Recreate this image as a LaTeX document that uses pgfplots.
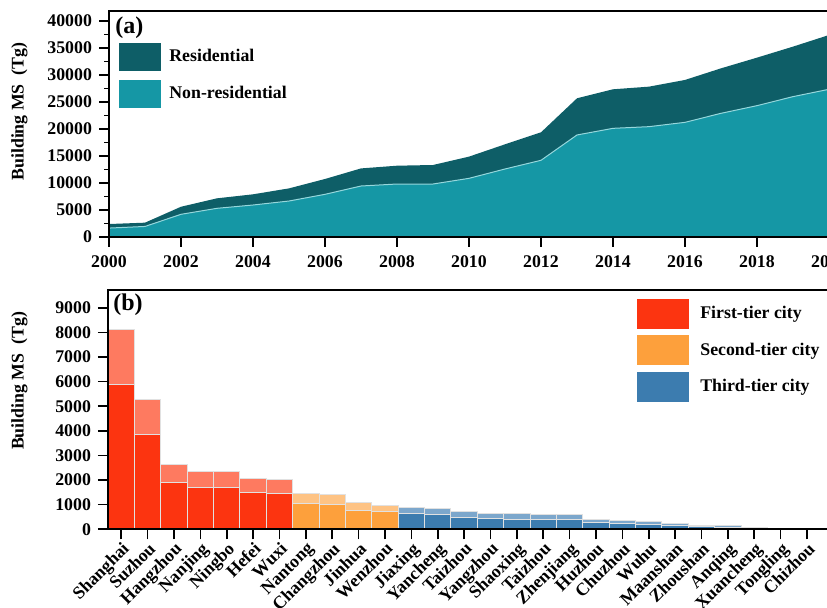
\documentclass[border=0pt]{standalone}
\usepackage{fontspec}
\setmainfont{Liberation Serif}
\usepackage{pgfplots}
\pgfplotsset{compat=1.18}
\definecolor{resid}{RGB}{14,94,103}
\definecolor{nonres}{RGB}{21,151,165}
\definecolor{nrline}{RGB}{150,215,220}
\definecolor{ftd}{RGB}{252,52,16}
\definecolor{ftl}{RGB}{254,122,96}
\definecolor{std}{RGB}{253,160,60}
\definecolor{stl}{RGB}{254,195,132}
\definecolor{ttd}{RGB}{60,124,175}
\definecolor{ttl}{RGB}{124,167,204}
\definecolor{edge}{RGB}{225,225,225}
\newcommand{\tf}{\fontsize{8.9}{10}\selectfont\bfseries}
\pgfplotsset{
  common/.style={
    scale only axis, axis on top, tick align=outside, tick pos=left,
    axis line style={black, line width=0.8pt},
    every tick/.style={black, line width=0.8pt},
    major tick length=5pt, minor tick length=2.5pt,
    tick label style={font=\tf},
    label style={font=\tf},
    /pgf/number format/assume math mode=true,
    /pgf/number format/1000 sep={},
    scaled ticks=false,
    legend style={font=\tf, draw=none, fill=none, inner sep=0pt,
      nodes={inner sep=0pt}, cells={anchor=west}},
  },
  topleg/.style={legend image code/.code={\path[##1, draw=none] (0pt,-7pt) rectangle (21.2pt,7pt);}},
  botleg/.style={legend image code/.code={\path[##1, draw=none] (0pt,-7.5pt) rectangle (25.8pt,7.5pt);}},
}
\begin{document}
\begin{tikzpicture}
\useasboundingbox (0,0) rectangle (413.5pt,304pt);
% ---------------- (a)
\begin{axis}[common,
  at={(54.5pt,185.5pt)}, anchor=south west,
  width=360pt, height=113pt,
  xmin=2000, xmax=2020, ymin=0, ymax=41850,
  xtick={2000,2002,2004,2006,2008,2010,2012,2014,2016,2018,2020},
  xticklabel style={yshift=-1pt},
  ytick={0,5000,10000,15000,20000,25000,30000,35000,40000},
  minor y tick num=1,
  ylabel={Building MS\ \ (Tg)},
  ylabel style={at={(rel axis cs:-0.1243,0.555)}, anchor=center},
  legend style={at={(rel axis cs:0.0129,0.8597)}, anchor=north west,
    row sep=4.35pt, column sep=4.15pt},
]
\addplot[fill=resid, draw=none, topleg] coordinates {
(2000,2400) (2001,2650) (2002,5600) (2003,7160) (2004,7900) (2005,9000)
(2006,10740) (2007,12700) (2008,13200) (2009,13330) (2010,14880) (2011,17160)
(2012,19380) (2013,25680) (2014,27350) (2015,27840) (2016,29080) (2017,31230)
(2018,33210) (2019,35250) (2020,37400)} \closedcycle;
\addlegendentry{Residential}
\addplot[fill=nonres, draw=none, topleg] coordinates {
(2000,1650) (2001,1950) (2002,4200) (2003,5310) (2004,5920) (2005,6660)
(2006,7900) (2007,9440) (2008,9810) (2009,9810) (2010,10860) (2011,12590)
(2012,14200) (2013,18890) (2014,20120) (2015,20430) (2016,21230) (2017,22900)
(2018,24320) (2019,25990) (2020,27350)} \closedcycle;
\addlegendentry{Non-residential}
\addplot[nrline, line width=0.5pt, forget plot] coordinates {
(2000,1650) (2001,1950) (2002,4200) (2003,5310) (2004,5920) (2005,6660)
(2006,7900) (2007,9440) (2008,9810) (2009,9810) (2010,10860) (2011,12590)
(2012,14200) (2013,18890) (2014,20120) (2015,20430) (2016,21230) (2017,22900)
(2018,24320) (2019,25990) (2020,27350)};
\node[anchor=north west, font=\fontsize{12}{14}\selectfont\bfseries, inner sep=0pt]
  at (rel axis cs:0.0083,0.975) {(a)};
\end{axis}
% ---------------- (b)
\begin{axis}[common,
  at={(54pt,39.35pt)}, anchor=south west,
  width=362.7pt, height=119.65pt,
  xmin=-0.5, xmax=27, ymin=0, ymax=9720,
  xtick={0,...,26},
  xticklabels={Shanghai,Suzhou,Hangzhou,Nanjing,Ningbo,Hefei,Wuxi,Nantong,Changzhou,Jinhua,Wenzhou,Jiaxing,Yancheng,Taizhou,Yangzhou,Shaoxing,Taizhou,Zhenjiang,Huzhou,Chuzhou,Wuhu,Maanshan,Zhoushan,Anqing,Xuancheng,Tongling,Chizhou},
  xticklabel style={rotate=45, anchor=north east, inner sep=0.5pt},
  ytick={0,1000,2000,3000,4000,5000,6000,7000,8000,9000},
  ylabel={Building MS\ \ (Tg)},
  ylabel style={at={(rel axis cs:-0.122,0.62)}, anchor=center},
  legend style={at={(rel axis cs:0.7288,0.9653)}, anchor=north west,
    row sep=3.35pt, column sep=5.85pt},
]
\addplot[ybar, bar width=13.19pt, bar shift=0pt, fill=ftl, draw=edge, line width=0.5pt, forget plot]
 coordinates {(0,8120) (1,5275) (2,2630) (3,2350) (4,2350) (5,2070) (6,2040)};
\addplot[ybar, bar width=13.19pt, bar shift=0pt, fill=stl, draw=edge, line width=0.5pt, forget plot]
 coordinates {(7,1450) (8,1410) (9,1074) (10,968)};
\addplot[ybar, bar width=13.19pt, bar shift=0pt, fill=ttl, draw=edge, line width=0.5pt, forget plot]
 coordinates {(11,900) (12,860) (13,726) (14,645) (15,632) (16,618) (17,605) (18,417)
 (19,363) (20,336) (21,255) (22,148) (23,148) (24,81) (25,40) (26,13)};
\addplot[ybar, bar width=13.19pt, bar shift=0pt, fill=ftd, draw=edge, line width=0.5pt, botleg]
 coordinates {(0,5890) (1,3850) (2,1905) (3,1680) (4,1680) (5,1490) (6,1460)};
\addlegendentry{First-tier city}
\addplot[ybar, bar width=13.19pt, bar shift=0pt, fill=std, draw=edge, line width=0.5pt, botleg]
 coordinates {(7,1060) (8,1007) (9,750) (10,712)};
\addlegendentry{Second-tier city}
\addplot[ybar, bar width=13.19pt, bar shift=0pt, fill=ttd, draw=edge, line width=0.5pt, botleg]
 coordinates {(11,632) (12,591) (13,497) (14,430) (15,417) (16,390) (17,390) (18,269)
 (19,215) (20,202) (21,161) (22,94) (23,81) (24,40) (25,27) (26,10)};
\addlegendentry{Third-tier city}
\node[anchor=north west, font=\fontsize{12}{14}\selectfont\bfseries, inner sep=0pt]
  at (rel axis cs:0.0069,0.985) {(b)};
\end{axis}
\end{tikzpicture}
\end{document}
